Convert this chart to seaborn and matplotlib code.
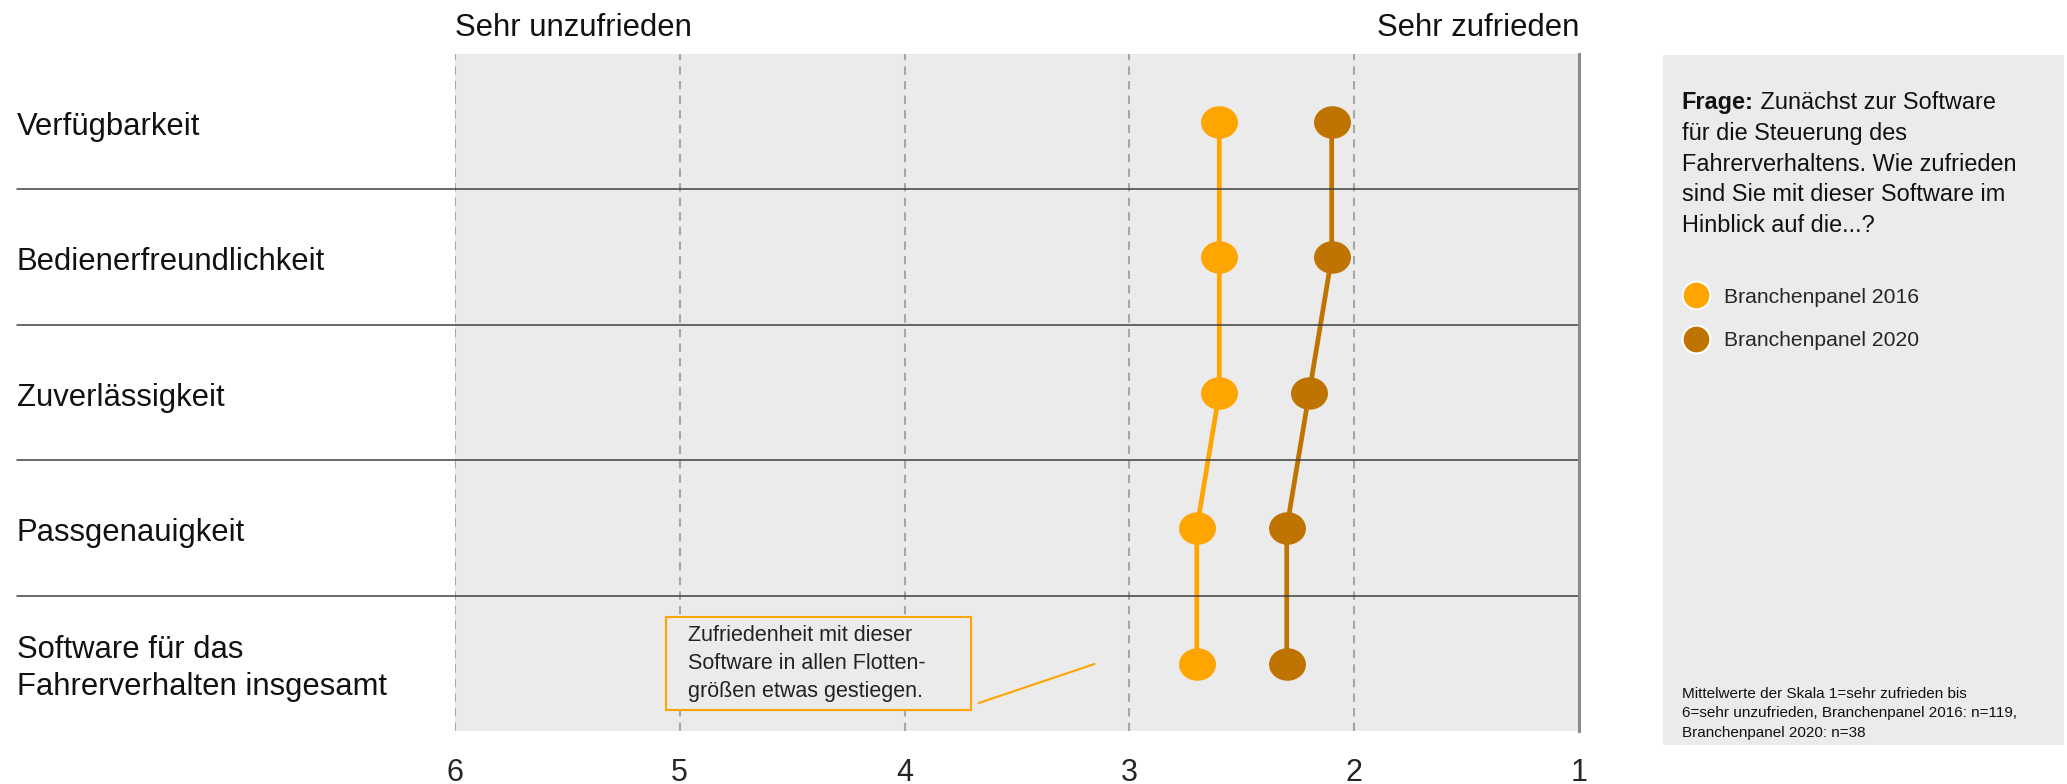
import numpy as np
import pandas as pd
import matplotlib
matplotlib.use("Agg")
import matplotlib.pyplot as plt
import matplotlib.transforms as mtransforms
import seaborn as sns
from matplotlib.path import Path
from matplotlib.lines import Line2D
from matplotlib.patches import Rectangle

# data (scale 1 = sehr zufrieden ... 6 = sehr unzufrieden)
categories = ["Verfügbarkeit", "Bedienerfreundlichkeit", "Zuverlässigkeit",
              "Passgenauigkeit", "Software für das\nFahrerverhalten insgesamt"]
panel_2016 = [2.6, 2.6, 2.6, 2.7, 2.7]
panel_2020 = [2.1, 2.1, 2.2, 2.3, 2.3]
series_names = ["Branchenpanel 2016", "Branchenpanel 2020"]
scale_ticks = [6, 5, 4, 3, 2, 1]

colors = ["#FFA500", "#BF7300"]
bg = "#EBEBEB"

df = pd.DataFrame({
    "Kategorie": categories * 2,
    "pos": list(range(len(categories))) * 2,
    "Mittelwert": panel_2016 + panel_2020,
    "Serie": [series_names[0]] * len(categories) + [series_names[1]] * len(categories),
})

sns.set_theme(style="white")
plt.rcParams["font.family"] = ["Liberation Sans", "DejaVu Sans"]

fig = plt.figure(figsize=(20.67, 7.84), dpi=100)
ax = fig.add_axes([0.2201, 0.067, 0.5438, 0.8642])
ax.set_facecolor(bg)

# slightly flattened dots like in the original
circ = Path.unit_circle()
ellipse = Path(circ.vertices * [1.0, 0.88], circ.codes)

sns.lineplot(data=df, x="Mittelwert", y="pos", hue="Serie", palette=colors,
             orient="y", errorbar=None, legend=False, lw=3.4,
             marker=ellipse, markersize=26.6, markeredgewidth=0, ax=ax)

ax.set_xlim(6, 1)
ax.set_ylim(4.5, -0.5)
ax.set_xticks(scale_ticks)
ax.set_xticklabels([str(t) for t in scale_ticks])
ax.set_yticks([])
ax.set_xlabel("")
ax.set_ylabel("")
ax.tick_params(axis="x", length=0, labelsize=22, pad=19)
ax.grid(axis="x", color="#A6A6A6", ls=(0, (4, 3)), lw=1.5)
ax.grid(axis="y", visible=False)
ax.set_axisbelow(True)
for s in ["left", "top", "bottom"]:
    ax.spines[s].set_visible(False)
ax.spines["right"].set_color("#8C8C8C")
ax.spines["right"].set_linewidth(2.2)

# row separators reaching out under the labels
for b in np.arange(0.5, len(categories) - 1, 1.0):
    ax.axhline(b, xmin=-0.3897, xmax=1, color="#404040", lw=1.1, clip_on=False)

trans_rows = mtransforms.blended_transform_factory(ax.transAxes, ax.transData)
shift_down = mtransforms.ScaledTranslation(0, -5 / 100, fig.dpi_scale_trans)
for i, cat in enumerate(categories):
    ax.text(-0.3897, i, cat, transform=trans_rows + shift_down, ha="left", va="center",
            fontsize=22.3, color="#111111", linespacing=1.3)

trans_top = mtransforms.blended_transform_factory(ax.transData, ax.transAxes)
ax.text(6, 1.038, "Sehr unzufrieden", transform=trans_top, ha="left", va="center",
        fontsize=22.3, color="#111111")
ax.text(1, 1.038, "Sehr zufrieden", transform=trans_top, ha="right", va="center",
        fontsize=22.3, color="#111111")

# annotation box
ax.add_patch(Rectangle((0.1877, 0.032), 0.2713, 0.137, transform=ax.transAxes,
                       facecolor=bg, edgecolor="#FFA500", lw=1.5, zorder=3))
ax.text(0.207, 0.1005, "Zufriedenheit mit dieser\nSoftware in allen Flotten-\ngrößen etwas gestiegen.",
        transform=ax.transAxes, ha="left", va="center", fontsize=15.5, color="#222222",
        linespacing=1.45, zorder=4)
ax.plot([0.466, 0.569], [0.042, 0.0996], transform=ax.transAxes, color="#FFA500",
        lw=1.5, clip_on=False)

# side panel
side = fig.add_axes([0.8045, 0.0497, 0.194, 0.880])
side.set_facecolor(bg)
side.set_xticks([])
side.set_yticks([])
for s in side.spines.values():
    s.set_visible(False)


def panel_y(px):
    return 1 - (px - 55) / 690


frage = side.text(0.047, panel_y(109), "Frage:", fontsize=16.9, fontweight="bold",
                  ha="left", va="baseline", color="#111111")
side.annotate(" Zunächst zur Software", xy=(1, 0), xycoords=frage, ha="left", va="bottom",
              fontsize=16.9, color="#111111")
rest = ["für die Steuerung des", "Fahrerverhaltens. Wie zufrieden",
        "sind Sie mit dieser Software im", "Hinblick auf die...?"]
for k, line in enumerate(rest):
    side.text(0.047, panel_y(140 + 30.5 * k), line, fontsize=16.9, ha="left",
              va="baseline", color="#111111")

handles = [Line2D([0], [0], marker="o", ls="", markerfacecolor=c, markeredgecolor="white",
                  markeredgewidth=1.5, markersize=20) for c in colors]
side.legend(handles, series_names, loc="upper left", bbox_to_anchor=(0.045, 0.663),
            frameon=False, fontsize=15.2, handlelength=1.4, handletextpad=0.63,
            labelspacing=1.15, borderpad=0, borderaxespad=0)

side.text(0.047, panel_y(713), "Mittelwerte der Skala 1=sehr zufrieden bis\n"
          "6=sehr unzufrieden, Branchenpanel 2016: n=119,\nBranchenpanel 2020: n=38",
          fontsize=11, ha="left", va="center", color="#111111", linespacing=1.5)

fig.savefig("out.png", dpi=100, facecolor="white")
